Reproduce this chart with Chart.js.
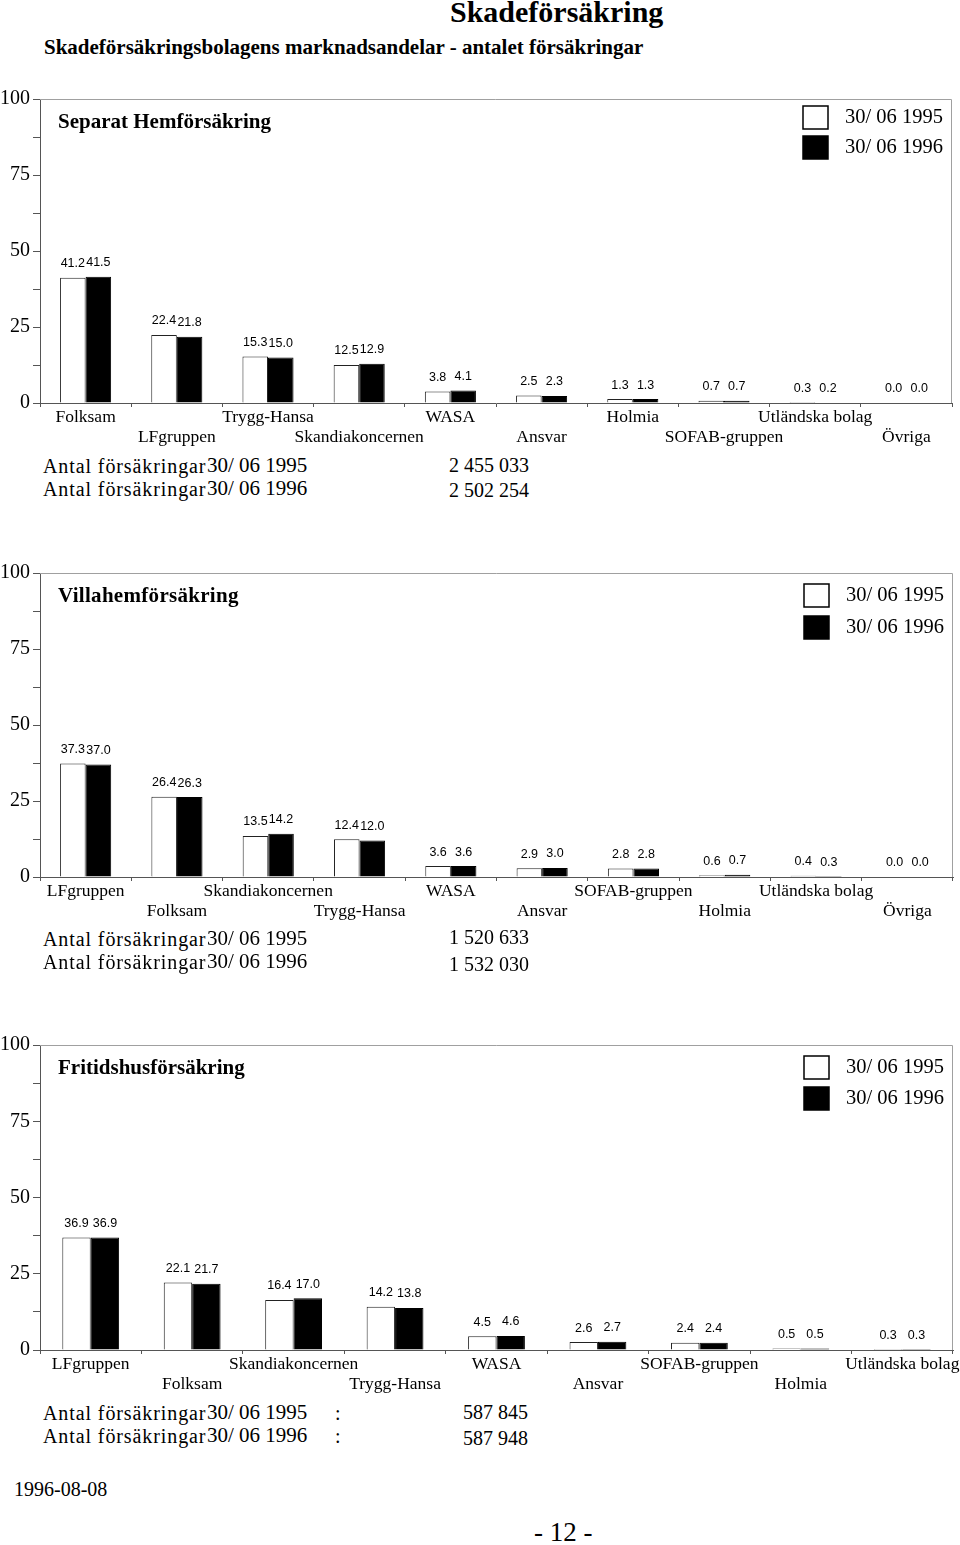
<!DOCTYPE html>
<html>
<head>
<meta charset="utf-8">
<script src="https://cdn.jsdelivr.net/npm/chart.js@4.4.1/dist/chart.umd.min.js"></script>
<style>
  html, body { margin: 0; padding: 0; background: #fff; }
  body { width: 960px; height: 1545px; position: relative; overflow: hidden;
         font-family: "Liberation Serif", "Times New Roman", serif; color: #000; }
  canvas { position: absolute; left: 0; }
  .t { position: absolute; white-space: nowrap; line-height: 1; font-size: 20px; }
  .b { font-weight: bold; }
  .a { letter-spacing: 0.9px; }
  .d { font-size: 21px; }
</style>
</head>
<body>

<div class="t b" style="left:450px; top:-3px; font-size:30px;">Skadeförsäkring</div>
<div class="t b" style="left:44px; top:37px; font-size:21px;">Skadeförsäkringsbolagens marknadsandelar - antalet försäkringar</div>

<canvas id="hem" width="980" height="369" style="top:84px"></canvas>
<div class="t a" style="left:43px; top:456px;">Antal försäkringar</div>
<div class="t d" style="left:207px; top:455px;">30/ 06 1995</div>
<div class="t a" style="left:43px; top:479px;">Antal försäkringar</div>
<div class="t d" style="left:207px; top:478px;">30/ 06 1996</div>
<div class="t" style="left:449px; top:455px;">2 455 033</div>
<div class="t" style="left:449px; top:480px;">2 502 254</div>

<canvas id="villa" width="980" height="369" style="top:558px"></canvas>
<div class="t a" style="left:43px; top:929px;">Antal försäkringar</div>
<div class="t d" style="left:207px; top:928px;">30/ 06 1995</div>
<div class="t a" style="left:43px; top:952px;">Antal försäkringar</div>
<div class="t d" style="left:207px; top:951px;">30/ 06 1996</div>
<div class="t" style="left:449px; top:927px;">1 520 633</div>
<div class="t" style="left:449px; top:954px;">1 532 030</div>

<canvas id="fritid" width="980" height="370" style="top:1030px"></canvas>
<div class="t a" style="left:43px; top:1403px;">Antal försäkringar</div>
<div class="t d" style="left:207px; top:1402px;">30/ 06 1995</div>
<div class="t a" style="left:43px; top:1426px;">Antal försäkringar</div>
<div class="t d" style="left:207px; top:1425px;">30/ 06 1996</div>
<div class="t" style="left:335px; top:1403px;">:</div>
<div class="t" style="left:335px; top:1426px;">:</div>
<div class="t" style="left:463px; top:1402px;">587 845</div>
<div class="t" style="left:463px; top:1428px;">587 948</div>

<div class="t" style="left:14px; top:1479px;">1996-08-08</div>
<div class="t" style="left:534px; top:1519px; font-size:27px;">- 12 -</div>

<script>
/*_____________________DATA____________________*/

const seriesLabels = ['30/ 06 1995', '30/ 06 1996'];
const yTicks = [0, 25, 50, 75, 100];

const hemCategories = ['Folksam', 'LFgruppen', 'Trygg-Hansa', 'Skandiakoncernen', 'WASA',
                       'Ansvar', 'Holmia', 'SOFAB-gruppen', 'Utländska bolag', 'Övriga'];
const hem1995 = [41.2, 22.4, 15.3, 12.5, 3.8, 2.5, 1.3, 0.7, 0.3, 0.0];
const hem1996 = [41.5, 21.8, 15.0, 12.9, 4.1, 2.3, 1.3, 0.7, 0.2, 0.0];

const villaCategories = ['LFgruppen', 'Folksam', 'Skandiakoncernen', 'Trygg-Hansa', 'WASA',
                         'Ansvar', 'SOFAB-gruppen', 'Holmia', 'Utländska bolag', 'Övriga'];
const villa1995 = [37.3, 26.4, 13.5, 12.4, 3.6, 2.9, 2.8, 0.6, 0.4, 0.0];
const villa1996 = [37.0, 26.3, 14.2, 12.0, 3.6, 3.0, 2.8, 0.7, 0.3, 0.0];

const fritidCategories = ['LFgruppen', 'Folksam', 'Skandiakoncernen', 'Trygg-Hansa', 'WASA',
                          'Ansvar', 'SOFAB-gruppen', 'Holmia', 'Utländska bolag'];
const fritid1995 = [36.9, 22.1, 16.4, 14.2, 4.5, 2.6, 2.4, 0.5, 0.3];
const fritid1996 = [36.9, 21.7, 17.0, 13.8, 4.6, 2.7, 2.4, 0.5, 0.3];

const serif = '"Liberation Serif", "Times New Roman", serif';


/*_____________________PANEL_PLUGIN____________________*/
// frame, value labels, panel title and legend

const panel = {
  id: 'panel',
  beforeDatasetsDraw(chart) {
    const a = chart.chartArea, ctx = chart.ctx;
    ctx.save();
    ctx.strokeStyle = '#a0a0a0';
    ctx.lineWidth = 1;
    ctx.beginPath();
    ctx.moveTo(a.left, a.top + 0.5);
    ctx.lineTo(a.right - 0.5, a.top + 0.5);
    ctx.lineTo(a.right - 0.5, a.bottom);
    ctx.stroke();
    ctx.restore();
  },
  afterDatasetsDraw(chart, args, opts) {
    const a = chart.chartArea, ctx = chart.ctx;
    ctx.save();
    ctx.fillStyle = '#000';
    ctx.textAlign = 'center';
    ctx.textBaseline = 'middle';
    ctx.font = '12.5px "Liberation Sans", Arial, sans-serif';
    chart.data.datasets.forEach((ds, i) => {
      chart.getDatasetMeta(i).data.forEach((bar, j) => {
        ctx.fillText(ds.data[j].toFixed(1), bar.x, bar.y - 14);
      });
    });

    ctx.textAlign = 'left';
    ctx.font = 'bold 21px ' + serif;
    if ('letterSpacing' in ctx) ctx.letterSpacing = opts.titleSpacing + 'px';
    ctx.fillText(opts.title, a.left + 18, a.top + 24);
    if ('letterSpacing' in ctx) ctx.letterSpacing = '0px';

    chart.data.datasets.forEach((ds, i) => {
      const x = a.right - 149;
      const y = a.top + opts.legendY + i * opts.legendGap;
      ctx.fillStyle = ds.backgroundColor;
      ctx.fillRect(x, y, 25, 23);
      ctx.strokeStyle = '#000';
      ctx.lineWidth = 1.5;
      ctx.strokeRect(x, y, 25, 23);
      ctx.fillStyle = '#000';
      ctx.font = '20.5px ' + serif;
      ctx.fillText(ds.label, x + 42, y + 12);
    });
    ctx.restore();
  }
};


/*_____________________CHARTS____________________*/

function makeChart(id, categories, v1995, v1996, title, titleSpacing, legendY, legendGap, padRight) {
  return new Chart(document.getElementById(id), {
    type: 'bar',
    data: {
      labels: categories,
      datasets: [
        {
          label: seriesLabels[0],
          data: v1995,
          backgroundColor: '#ffffff',
          borderColor: '#222',
          borderWidth: 1,
          categoryPercentage: 0.56,
          barPercentage: 1.0,
        },
        {
          label: seriesLabels[1],
          data: v1996,
          backgroundColor: '#000000',
          borderColor: '#000',
          borderWidth: 1,
          categoryPercentage: 0.56,
          barPercentage: 1.0,
        }
      ]
    },
    plugins: [panel],
    options: {
      responsive: false,
      animation: false,
      devicePixelRatio: 1,
      layout: {padding: {top: 12, right: padRight, left: 0, bottom: 0}},
      plugins: {
        legend: {display: false},
        tooltip: {enabled: false},
        panel: {title: title, titleSpacing: titleSpacing, legendY: legendY, legendGap: legendGap},
      },
      scales: {
        x: {
          offset: true,
          grid: {display: true, drawOnChartArea: false, offset: true, tickLength: 4, color: '#555'},
          border: {color: '#555', width: 1},
          afterFit: s => { s.height = 50; },
          ticks: {
            autoSkip: false,
            maxRotation: 0,
            padding: 0,
            color: '#000',
            font: {family: serif, size: 17.5, lineHeight: 1.15},
            callback: function(v, i) {
              const l = this.getLabelForValue(v);
              return i % 2 ? ['', l] : [l];
            }
          }
        },
        y: {
          min: 0,
          max: 100,
          grid: {display: true, drawOnChartArea: false, tickLength: 7, color: '#555'},
          border: {color: '#555', width: 1},
          afterFit: s => { s.width = 40; },
          ticks: {
            stepSize: 12.5,
            padding: 3,
            color: '#000',
            font: {family: serif, size: 20},
            callback: v => yTicks.includes(v) ? v : ''
          }
        }
      }
    }
  });
}

makeChart('hem', hemCategories, hem1995, hem1996, 'Separat Hemförsäkring', 0, 7, 30, 28);
makeChart('villa', villaCategories, villa1995, villa1996, 'Villahemförsäkring', 0.3, 11, 32, 27);
makeChart('fritid', fritidCategories, fritid1995, fritid1996, 'Fritidshusförsäkring', 0, 11, 31, 27);
</script>
</body>
</html>
